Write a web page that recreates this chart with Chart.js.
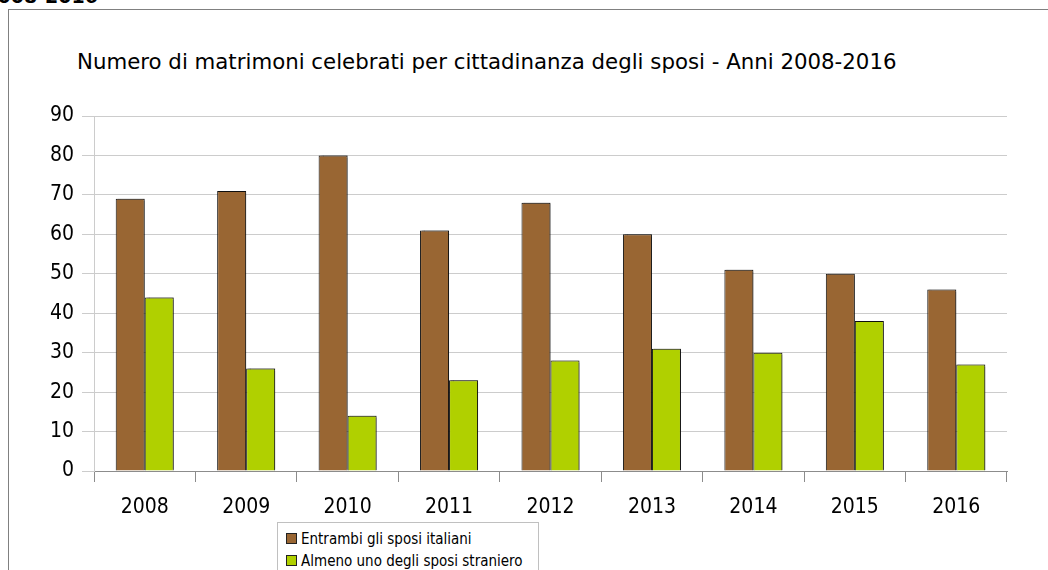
<!DOCTYPE html>
<html>
<head>
<meta charset="utf-8">
<script src="https://cdn.jsdelivr.net/npm/chart.js@4.4.1/dist/chart.umd.min.js"></script>
<style>
  html, body { margin: 0; padding: 0; background: #fff; width: 1048px; height: 570px; overflow: hidden; }
  #wrap { position: relative; width: 1048px; height: 570px; overflow: hidden; }
  #frame { position: absolute; left: 8px; top: 9px; width: 1100px; height: 700px; border-left: 1px solid #808080; border-top: 1px solid #808080; }
  #head { position: absolute; right: 950px; top: -15px; font: bold 19px "DejaVu Sans", sans-serif; white-space: nowrap; color: #000; }
  #title { position: absolute; left: 77px; top: 49px; font: 21.3px "DejaVu Sans", sans-serif; color: #000; white-space: nowrap; }
  #chartBox { position: absolute; left: 0; top: 0; width: 1048px; height: 570px; }
  #legend { position: absolute; left: 277px; top: 522px; width: 260px; height: 60px; border: 1px solid #c0c0c0; background: #fff; font: 15px "DejaVu Sans Condensed", "DejaVu Sans", sans-serif; color: #000; }
  .li { position: absolute; left: 8px; white-space: nowrap; line-height: 18px; }
  .sw { display: inline-block; width: 9px; height: 9px; border: 1px solid #222; margin-right: 4px; vertical-align: 0px; }
</style>
</head>
<body>
<div id="wrap">
  <div id="frame"></div>
  <div id="head">Anni 2008-2016</div>
  <div id="title"></div>
  <div id="chartBox"><canvas id="c" width="1048" height="570"></canvas></div>
  <div id="legend"></div>
</div>
<script>
const chartTitle = "Numero di matrimoni celebrati per cittadinanza degli sposi - Anni 2008-2016";
const years = ["2008", "2009", "2010", "2011", "2012", "2013", "2014", "2015", "2016"];
const seriesNames = ["Entrambi gli sposi italiani", "Almeno uno degli sposi straniero"];
const italiani = [69, 71, 80, 61, 68, 60, 51, 50, 46];
const stranieri = [44, 26, 14, 23, 28, 31, 30, 38, 27];
const yTicks = [0, 10, 20, 30, 40, 50, 60, 70, 80, 90];
const colors = ["#996633", "#b0d000"];

document.getElementById('title').textContent = chartTitle;

const legend = document.getElementById('legend');
seriesNames.forEach((name, i) => {
  const d = document.createElement('div');
  d.className = 'li';
  d.style.top = (i === 0 ? 7 : 29) + 'px';
  const s = document.createElement('span');
  s.className = 'sw';
  s.style.background = colors[i];
  d.appendChild(s);
  d.appendChild(document.createTextNode(name));
  legend.appendChild(d);
});

const shadowPlugin = {
  id: 'barShadow',
  beforeDatasetsDraw(chart) {
    const ctx = chart.ctx;
    ctx.save();
    ctx.shadowColor = 'rgba(0,0,0,0.35)';
    ctx.shadowOffsetX = 2;
    ctx.shadowOffsetY = -1;
    ctx.shadowBlur = 1;
  },
  afterDatasetsDraw(chart) {
    chart.ctx.restore();
  }
};

const tickFont = { family: "'DejaVu Sans Condensed', 'DejaVu Sans', sans-serif", size: 21 };

new Chart(document.getElementById('c'), {
  type: 'bar',
  data: {
    labels: years,
    datasets: [
      { label: seriesNames[0], data: italiani, backgroundColor: colors[0], borderColor: '#111111', borderWidth: 1 },
      { label: seriesNames[1], data: stranieri, backgroundColor: colors[1], borderColor: '#111111', borderWidth: 1 }
    ]
  },
  options: {
    responsive: false,
    animation: false,
    events: [],
    layout: { padding: { left: 0, right: 41, top: 116, bottom: 0 } },
    datasets: { bar: { categoryPercentage: 0.572, barPercentage: 1.0 } },
    plugins: {
      legend: { display: false },
      title: { display: false },
      tooltip: { enabled: false }
    },
    scales: {
      x: {
        afterFit(scale) { scale.height = 99; },
        grid: { offset: true, drawOnChartArea: false, drawTicks: true, tickLength: 11, color: '#8c8c8c' },
        border: { display: true, color: '#8c8c8c' },
        ticks: { font: tickFont, color: '#000', padding: 13, maxRotation: 0 }
      },
      y: {
        min: 0, max: 90,
        afterFit(scale) { scale.width = 94; },
        afterBuildTicks(scale) { scale.ticks = yTicks.map(v => ({ value: v })); },
        grid: { color: '#cccccc', drawTicks: true, tickLength: 12 },
        border: { display: true, color: '#cccccc' },
        ticks: { font: tickFont, color: '#000', padding: 8 }
      }
    }
  },
  plugins: [shadowPlugin]
});
</script>
</body>
</html>
